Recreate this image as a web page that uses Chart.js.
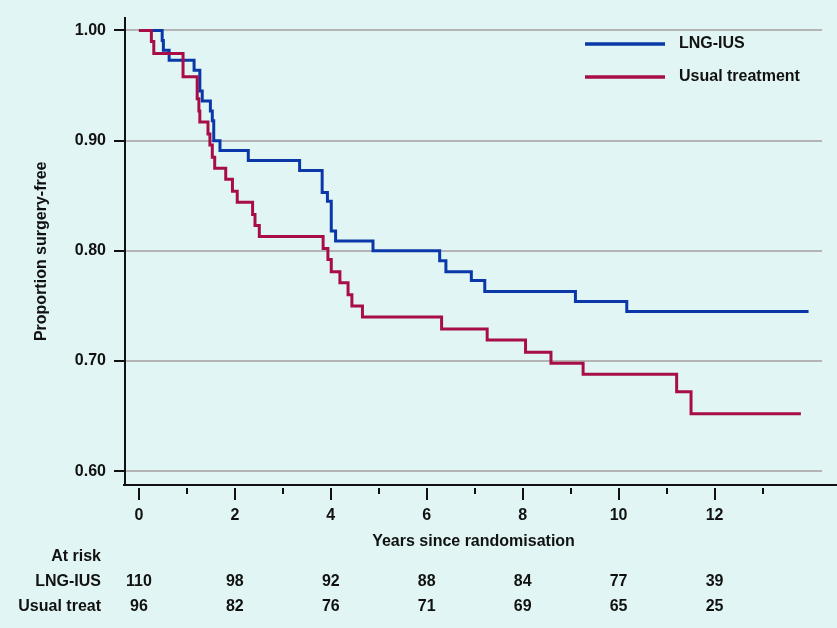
<!DOCTYPE html>
<html><head><meta charset="utf-8">
<script src="https://cdn.jsdelivr.net/npm/chart.js@4"></script>
<style>html,body{margin:0;padding:0;background:#e1f6f4;}canvas{display:block;}</style>
</head><body>
<canvas id="c" width="837" height="628"></canvas>
<script>
// ---- data ----
const seriesLabels = ['LNG-IUS', 'Usual treatment'];
const lngTimes = [0, 0.485, 0.51, 0.63, 1.15, 1.27, 1.32, 1.49, 1.53, 1.56, 1.69, 2.28, 3.35, 3.82, 3.93, 4.01, 4.10, 4.88, 6.27, 6.40, 6.93, 7.21, 9.10, 10.17, 13.96];
const lngSurv  = [1.0, 0.991, 0.982, 0.973, 0.964, 0.945, 0.936, 0.927, 0.918, 0.900, 0.891, 0.882, 0.873, 0.853, 0.845, 0.818, 0.809, 0.800, 0.791, 0.781, 0.773, 0.763, 0.754, 0.745, 0.745];
const usualTimes = [0, 0.26, 0.31, 0.92, 1.215, 1.25, 1.27, 1.44, 1.48, 1.53, 1.58, 1.81, 1.95, 2.05, 2.37, 2.42, 2.51, 3.84, 3.94, 4.01, 4.19, 4.36, 4.44, 4.66, 6.31, 7.26, 8.06, 8.59, 9.26, 11.21, 11.51, 13.80];
const usualSurv  = [1.0, 0.990, 0.979, 0.958, 0.938, 0.927, 0.917, 0.906, 0.896, 0.885, 0.875, 0.865, 0.854, 0.844, 0.833, 0.823, 0.813, 0.802, 0.792, 0.781, 0.771, 0.760, 0.750, 0.740, 0.729, 0.719, 0.708, 0.698, 0.688, 0.672, 0.652, 0.652];
const yTickValues = [0.6, 0.7, 0.8, 0.9, 1.0];
const xTickYears = [0, 1, 2, 3, 4, 5, 6, 7, 8, 9, 10, 11, 12, 13];
const xLabelYears = [0, 2, 4, 6, 8, 10, 12];
const riskHeader = 'At risk';
const riskRowLabels = ['LNG-IUS', 'Usual treat'];
const riskTimes = [0, 2, 4, 6, 8, 10, 12];
const riskLNG = [110, 98, 92, 88, 84, 77, 39];
const riskUsual = [96, 82, 76, 71, 69, 65, 25];

const BLUE = '#0a38a8';
const RED = '#a80d4a';
const INK = '#111111';
const FONT = '"Liberation Sans", Arial, sans-serif';

Chart.defaults.font.family = FONT;
Chart.defaults.font.size = 16;
Chart.defaults.font.weight = 'bold';
Chart.defaults.color = INK;

const toPoints = (ts, ss) => ts.map((t, i) => ({x: t, y: ss[i]}));

const extras = {
  id: 'extras',
  afterDraw(chart) {
    const ctx = chart.ctx, xs = chart.scales.x, ca = chart.chartArea;
    ctx.save();
    // x axis line (extends to canvas edge)
    ctx.strokeStyle = INK; ctx.lineWidth = 2;
    ctx.beginPath();
    ctx.moveTo(ca.left - 2, ca.bottom);
    ctx.lineTo(chart.width, ca.bottom);
    ctx.stroke();
    // x tick marks (major at labelled years, minor otherwise)
    xTickYears.forEach(t => {
      const px = Math.round(xs.getPixelForValue(t));
      const major = xLabelYears.includes(t);
      ctx.beginPath();
      ctx.moveTo(px, ca.bottom + 3);
      ctx.lineTo(px, ca.bottom + (major ? 15 : 9));
      ctx.stroke();
    });
    // legend
    ctx.font = 'bold 16px ' + FONT;
    ctx.textBaseline = 'middle';
    chart.data.datasets.forEach((ds, i) => {
      const y = 44 + i * 33;
      ctx.strokeStyle = ds.borderColor; ctx.lineWidth = 3.5;
      ctx.beginPath(); ctx.moveTo(585, y); ctx.lineTo(665, y); ctx.stroke();
      ctx.fillStyle = INK; ctx.textAlign = 'left';
      ctx.fillText(ds.label, 679, y);
    });
    // at-risk table
    ctx.fillStyle = INK;
    ctx.textAlign = 'right';
    ctx.fillText(riskHeader, 101, 557);
    ctx.fillText(riskRowLabels[0], 101, 582);
    ctx.fillText(riskRowLabels[1], 101, 607);
    ctx.textAlign = 'center';
    riskTimes.forEach((t, i) => {
      const px = xs.getPixelForValue(t);
      ctx.fillText(String(riskLNG[i]), px, 582);
      ctx.fillText(String(riskUsual[i]), px, 607);
    });
    ctx.restore();
  }
};

new Chart(document.getElementById('c'), {
  type: 'line',
  data: {
    datasets: [
      {label: seriesLabels[0], data: toPoints(lngTimes, lngSurv), borderColor: BLUE, backgroundColor: BLUE,
       borderWidth: 3, stepped: true, pointRadius: 0, fill: false, order: 1},
      {label: seriesLabels[1], data: toPoints(usualTimes, usualSurv), borderColor: RED, backgroundColor: RED,
       borderWidth: 3, stepped: true, pointRadius: 0, fill: false, order: 0}
    ]
  },
  options: {
    responsive: false,
    animation: false,
    layout: {padding: {top: 15, right: 15, left: 0, bottom: 0}},
    plugins: {legend: {display: false}, tooltip: {enabled: false}},
    scales: {
      x: {
        type: 'linear', min: -0.29, max: 14.24,
        afterBuildTicks: s => { s.ticks = xLabelYears.map(v => ({value: v})); },
        afterFit: s => { s.height = 143; },
        ticks: {padding: 21, autoSkip: false, maxRotation: 0, color: INK, callback: v => String(v)},
        grid: {display: false, drawTicks: false},
        border: {display: false},
        title: {display: true, text: 'Years since randomisation', color: INK, padding: {top: 0, bottom: 77}}
      },
      y: {
        min: 0.5874, max: 1.0117,
        afterBuildTicks: s => { s.ticks = yTickValues.map(v => ({value: v})); },
        afterFit: s => { s.width = 125; },
        ticks: {padding: 8, color: INK, callback: v => Number(v).toFixed(2)},
        grid: {color: '#b4b4b4', lineWidth: 2, drawTicks: true, tickLength: 11, tickColor: INK, tickWidth: 2},
        border: {display: true, color: INK, width: 2},
        title: {display: true, text: 'Proportion surgery-free', color: INK, padding: {top: 32, bottom: 0}}
      }
    }
  },
  plugins: [extras]
});
</script>
</body></html>
